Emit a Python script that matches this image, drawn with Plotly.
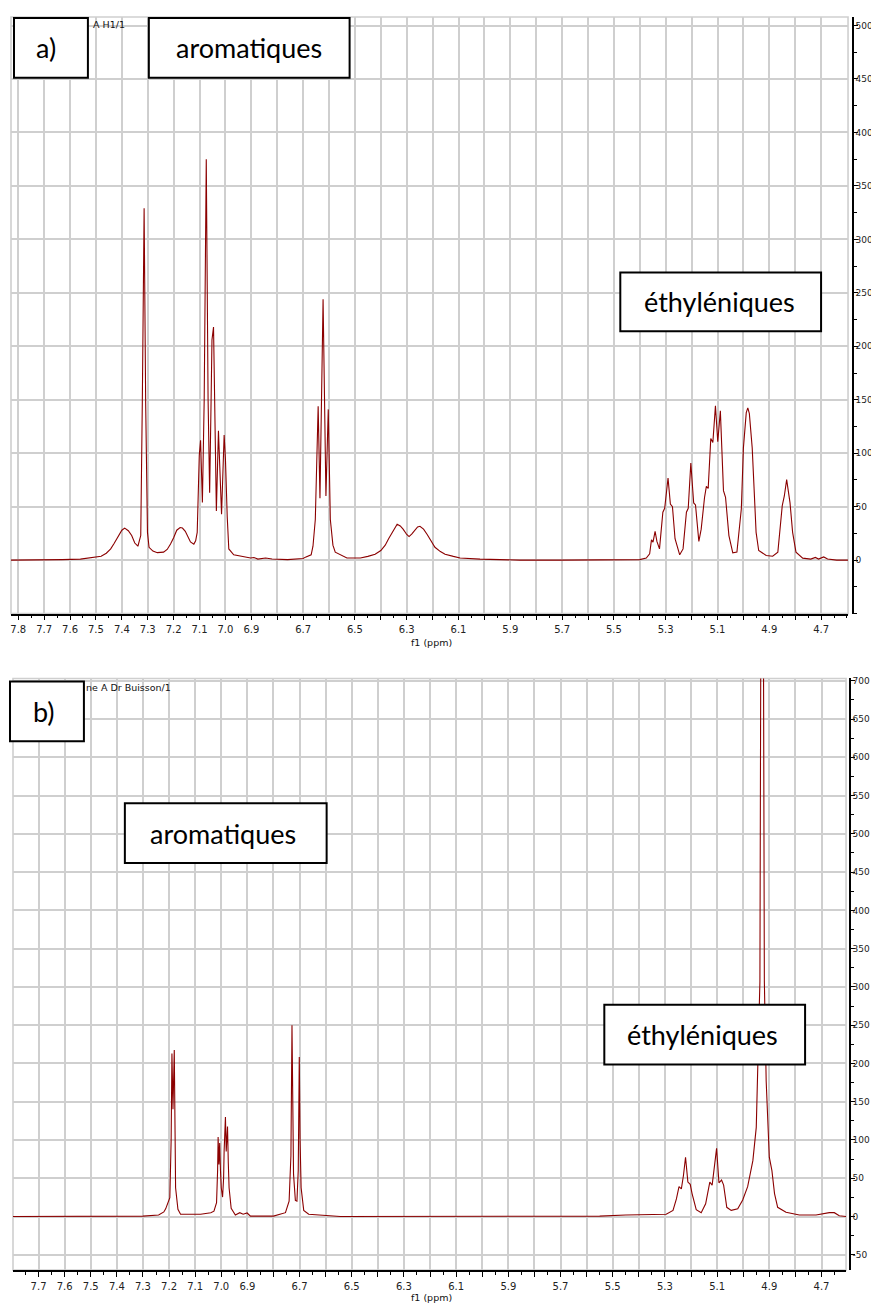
import plotly.graph_objects as go

PAGE_W, PAGE_H = 879, 1303
OFF = 8                      # default body margin of the html page
W, H = PAGE_W - OFF, PAGE_H - OFF

# ---------------- data ----------------
# Spectrum a)  chemical shift (ppm) / intensity
A_PPM = [7.828, 7.70, 7.63, 7.56, 7.48, 7.46, 7.443, 7.43, 7.416, 7.40, 7.389, 7.375, 7.362,
         7.35, 7.338, 7.327, 7.321, 7.314, 7.308, 7.301, 7.295, 7.28, 7.263, 7.239, 7.225,
         7.212, 7.20, 7.188, 7.175, 7.166, 7.155, 7.146, 7.135, 7.122, 7.115, 7.109, 7.104,
         7.101, 7.096, 7.089, 7.082, 7.074, 7.067, 7.061, 7.056, 7.052, 7.046, 7.040, 7.035,
         7.027, 7.021, 7.015, 7.005, 7.000, 6.993, 6.987, 6.968, 6.942, 6.903, 6.89, 6.875,
         6.845, 6.82, 6.76, 6.70, 6.691, 6.669, 6.662, 6.653, 6.642, 6.635, 6.623, 6.612,
         6.603, 6.595, 6.585, 6.576, 6.531, 6.479, 6.45, 6.422, 6.40, 6.383, 6.37, 6.356,
         6.345, 6.337, 6.325, 6.314, 6.30, 6.291, 6.28, 6.268, 6.258, 6.249, 6.235, 6.221,
         6.205, 6.191, 6.17, 6.152, 6.12, 6.094, 6.017, 5.863, 5.709, 5.554, 5.40, 5.375,
         5.362, 5.355, 5.349, 5.341, 5.334, 5.324, 5.311, 5.304, 5.291, 5.282, 5.274, 5.264,
         5.246, 5.233, 5.220, 5.213, 5.203, 5.192, 5.185, 5.172, 5.163, 5.150, 5.143, 5.136,
         5.126, 5.118, 5.108, 5.099, 5.089, 5.077, 5.069, 5.056, 5.041, 5.025, 5.008, 5.000,
         4.989, 4.983, 4.977, 4.966, 4.957, 4.951, 4.941, 4.912, 4.887, 4.867, 4.850, 4.842,
         4.833, 4.820, 4.810, 4.797, 4.771, 4.74, 4.722, 4.71, 4.69, 4.675, 4.64, 4.596]
A_INT = [0, 0, 0.5, 1, 3.7, 6.5, 10.5, 15.5, 21.5, 28, 30, 27.5, 23,
         16, 13, 23, 147, 329, 147, 26, 12, 8.5, 7, 7.5, 10,
         15, 21, 28, 30.5, 30, 27, 23, 17, 15, 18, 26, 60,
         98, 112, 54, 150, 375, 150, 63, 140, 206, 218, 110, 46,
         121, 70, 43, 117, 94.5, 40, 10.5, 5, 3.7, 2, 2.5, 1,
         2, 1, 0.5, 1.5, 2.8, 5, 13, 38, 144, 58, 244, 60,
         141, 38, 14, 7.5, 2, 2, 3.5, 5.6, 9, 14, 20, 26,
         31.5, 33.6, 32, 29, 24, 22, 24.5, 28, 31, 31.7, 29, 24,
         17, 12, 8, 5.6, 3.5, 2, 1, 0, 0, 0, 0.5, 2,
         5.9, 19, 16.8, 27, 17.5, 10.5, 44.8, 48.5, 76.8, 52.5, 50, 20,
         5, 10.5, 44.8, 48.5, 90.8, 53.5, 51.6, 17.5, 29, 58.8, 69, 67,
         113.8, 110, 144.3, 110.7, 139.6, 65, 58.8, 23, 6.8, 7.5, 48, 105,
         138, 142.4, 137, 105, 63, 26, 9, 4.4, 3.7, 7.5, 51, 60,
         75.3, 53.5, 26, 7.5, 1.9, 1, 2.5, 1, 3, 1, 0, 0]

# Spectrum b)
B_PPM = [7.798, 7.50, 7.30, 7.24, 7.22, 7.213, 7.207, 7.197, 7.192, 7.189, 7.185, 7.180,
         7.177, 7.175, 7.166, 7.156, 7.079, 7.040, 7.028, 7.018, 7.014, 7.012, 7.009, 7.006,
         7.003, 7.000, 6.995, 6.991, 6.989, 6.984, 6.981, 6.976, 6.973, 6.970, 6.962, 6.946,
         6.929, 6.916, 6.901, 6.888, 6.80, 6.754, 6.740, 6.733, 6.729, 6.726, 6.723, 6.716,
         6.710, 6.705, 6.701, 6.698, 6.694, 6.684, 6.665, 6.544, 6.20, 5.80, 5.55, 5.45,
         5.358, 5.295, 5.269, 5.256, 5.246, 5.237, 5.229, 5.221, 5.212, 5.203, 5.196, 5.180,
         5.161, 5.144, 5.128, 5.119, 5.102, 5.093, 5.083, 5.075, 5.063, 5.046, 5.021, 5.002,
         4.983, 4.963, 4.950, 4.941, 4.936, 4.933, 4.928, 4.922, 4.919, 4.912, 4.900, 4.890,
         4.880, 4.868, 4.836, 4.785, 4.721, 4.670, 4.651, 4.632, 4.606]
B_INT = [0, 0, 0.5, 2, 6, 10, 16, 24.5, 100, 213, 140, 217.6,
         110, 37.6, 9.4, 2.9, 3, 5, 7, 18, 60, 103.7, 68, 96,
         60, 37.6, 25.4, 50, 85.5, 130, 85, 117.7, 70, 37.6, 10.7, 2,
         5, 3, 4.6, 0.5, 0.5, 5, 20, 80, 250, 120, 55, 21,
         20, 60, 208.5, 100, 37.6, 8, 3, 0, 0, 0, 0.5, 2,
         2.5, 3, 8, 23, 39, 36, 53.5, 77.5, 45, 42, 30, 9,
         5, 16.5, 45, 41, 89, 44, 47.6, 41, 12, 8, 10, 21.5,
         39, 73, 116.5, 221, 307, 700, 1500, 700, 307, 177, 77.5, 60,
         30, 12, 5.5, 2, 2, 5, 5, 1, 0]

# tick labels
A_XTICKS = [7.8, 7.7, 7.6, 7.5, 7.4, 7.3, 7.2, 7.1, 7.0, 6.9, 6.8, 6.7, 6.6, 6.5, 6.4, 6.3,
            6.2, 6.1, 6.0, 5.9, 5.8, 5.7, 5.6, 5.5, 5.4, 5.3, 5.2, 5.1, 5.0, 4.9, 4.8, 4.7]
A_XLABELS = ["7.8", "7.7", "7.6", "7.5", "7.4", "7.3", "7.2", "7.1", "7.0", "6.9", "", "6.7",
             "", "6.5", "", "6.3", "", "6.1", "", "5.9", "", "5.7", "", "5.5", "", "5.3",
             "", "5.1", "", "4.9", "", "4.7"]
B_XTICKS = A_XTICKS[1:]
B_XLABELS = A_XLABELS[1:]
A_YTICKS = [0, 50, 100, 150, 200, 250, 300, 350, 400, 450, 500]
A_YLABELS = ["0", "50", "100", "150", "200", "250", "300", "350", "400", "450", "500"]
B_YTICKS = [-50, 0, 50, 100, 150, 200, 250, 300, 350, 400, 450, 500, 550, 600, 650, 700]
B_YLABELS = ["-50", "0", "50", "100", "150", "200", "250", "300", "350", "400", "450",
             "500", "550", "600", "650", "700"]

# ---------------- styling ----------------
RED = "#8b0000"
GRID = "#cfcfcf"
TICKFONT = dict(family="DejaVu Sans", size=10, color="#222222")
YTICKFONT = dict(family="DejaVu Sans", size=9, color="#222222")
BOXFONT = dict(family="Lato", size=27, color="#000000")


def fx(p):
    return (p - OFF) / W


def fy(p):
    return 1 - (p - OFF) / H


fig = go.Figure()
fig.add_trace(go.Scatter(x=A_PPM, y=A_INT, mode="lines", line=dict(color=RED, width=1.1),
                         xaxis="x", yaxis="y", showlegend=False, hoverinfo="skip"))
fig.add_trace(go.Scatter(x=B_PPM, y=B_INT, mode="lines", line=dict(color=RED, width=1.1),
                         xaxis="x2", yaxis="y2", showlegend=False, hoverinfo="skip"))


def xaxis(dom, rng, vals, labels, anchor):
    return dict(domain=dom, range=rng, anchor=anchor, tickmode="array", tickvals=vals,
                ticktext=labels, showgrid=True, gridcolor=GRID, gridwidth=1.6,
                ticks="outside", ticklen=5, tickwidth=1, tickcolor="#000",
                showline=True, linecolor="#000", linewidth=1.5, zeroline=False,
                tickfont=TICKFONT, ticklabelstandoff=1,
                minor=dict(tickmode="linear", tick0=0, dtick=0.05, ticks="outside",
                           ticklen=3, tickcolor="#000", showgrid=False))


def yaxis(dom, rng, vals, labels, pos):
    return dict(domain=dom, range=rng, side="right", anchor="free", position=pos,
                tickmode="array", tickvals=vals, ticktext=labels, showgrid=True,
                gridcolor=GRID, gridwidth=1.6, ticks="outside", ticklen=4, tickwidth=1,
                tickcolor="#000", showline=True, linecolor="#000", linewidth=1.5,
                zeroline=False, tickfont=YTICKFONT, ticklabelstandoff=-4,
                minor=dict(tickmode="linear", tick0=0, dtick=25, ticks="outside",
                           ticklen=3, tickcolor="#000", showgrid=False))


A_L, A_R, A_T, A_B = 10, 848, 14, 612
B_L, B_R, B_T, B_B = 12, 846, 677, 1270

shapes = []
for (l, r, t, b) in [(A_L, A_R, A_T, A_B), (B_L, B_R, B_T, B_B)]:
    shapes.append(dict(type="rect", xref="paper", yref="paper", x0=fx(l), x1=fx(r),
                       y0=fy(b), y1=fy(t), line=dict(color=GRID, width=1.6),
                       fillcolor="rgba(0,0,0,0)", layer="below"))

boxes = [
    ("a)", 13, 87, 15, 75, 45),
    ("aromatiques", 148, 349, 15, 75, 248),
    ("éthyléniques", 620, 821, 270, 329, 719),
    ("b)", 9, 83, 680, 740, 43),
    ("aromatiques", 124, 326, 802, 862, 222),
    ("éthyléniques", 604, 805, 1004, 1064, 702),
]
annotations = []
for text, l, r, t, b, cx in boxes:
    shapes.append(dict(type="rect", xref="paper", yref="paper", x0=fx(l), x1=fx(r),
                       y0=fy(b), y1=fy(t), line=dict(color="#000", width=2),
                       fillcolor="#ffffff", layer="above"))
    annotations.append(dict(text=text, xref="paper", yref="paper", x=fx(cx),
                            y=fy((t + b) / 2), xanchor="center", yanchor="middle",
                            showarrow=False, font=BOXFONT))

small = dict(family="DejaVu Sans", size=9.5, color="#111111")
annotations += [
    dict(text="A H1/1", xref="paper", yref="paper", x=fx(90), y=fy(22), xanchor="left",
         yanchor="middle", showarrow=False, font=small),
    dict(text="ne A Dr Buisson/1", xref="paper", yref="paper", x=fx(83), y=fy(686),
         xanchor="left", yanchor="middle", showarrow=False, font=small),
    dict(text="f1 (ppm)", xref="paper", yref="paper", x=fx(431), y=fy(641),
         xanchor="center", yanchor="middle", showarrow=False, font=small),
    dict(text="f1 (ppm)", xref="paper", yref="paper", x=fx(431), y=fy(1297),
         xanchor="center", yanchor="middle", showarrow=False, font=small),
]

fig.update_layout(
    width=W, height=H, autosize=False,
    margin=dict(l=0, r=0, t=0, b=0, pad=0),
    paper_bgcolor="#ffffff", plot_bgcolor="#ffffff",
    xaxis=xaxis([fx(A_L), fx(A_R)], [7.828, 4.596], A_XTICKS, A_XLABELS, "y"),
    yaxis=yaxis([fy(A_B), fy(A_T)], [-50, 508], A_YTICKS, A_YLABELS, fx(853)),
    xaxis2=xaxis([fx(B_L), fx(B_R)], [7.798, 4.606], B_XTICKS, B_XLABELS, "y2"),
    yaxis2=yaxis([fy(B_B), fy(B_T)], [-70, 703], B_YTICKS, B_YLABELS, fx(850)),
    shapes=shapes,
    annotations=annotations,
)

fig.write_html("out.html")
